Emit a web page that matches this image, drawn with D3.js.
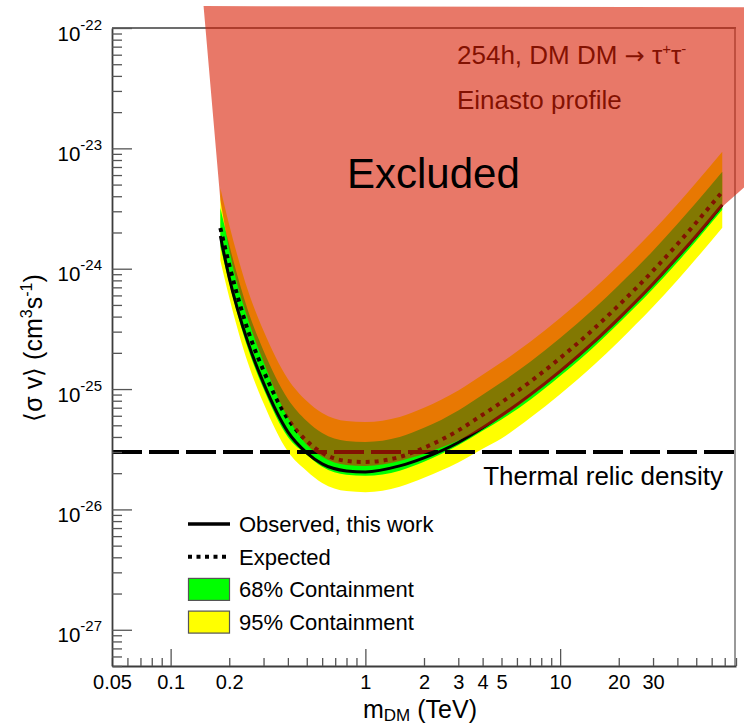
<!DOCTYPE html>
<html>
<head>
<meta charset="utf-8">
<script src="https://cdn.jsdelivr.net/npm/d3@7"></script>
<style>
  body { margin: 0; background: #fff; }
  svg { display: block; }
  text { font-family: "Liberation Sans", Arial, Helvetica, sans-serif; }
</style>
</head>
<body>
<svg id="chart" width="744" height="726"></svg>
<script>
// Dark-matter mass grid (TeV)
const massTeV = [0.18, 0.2, 0.25, 0.3, 0.4, 0.5, 0.6, 0.8, 1, 1.5, 2, 3, 4, 5, 7, 10, 15, 20, 30, 40, 50, 68];

// Upper limits on <sigma v> (cm^3 s^-1)
const observed = [1.87e-24, 8.4e-25, 2.42e-25, 1.12e-25, 4.41e-26, 2.95e-26, 2.39e-26, 2.09e-26, 2.05e-26, 2.30e-26, 2.68e-26,
                  3.60e-26, 4.77e-26, 6.05e-26, 8.94e-26, 1.41e-25, 2.49e-25, 3.87e-25, 7.50e-25, 1.25e-24, 1.88e-24, 3.40e-24];
const expected = [2.18e-24, 1.075e-24, 3.04e-25, 1.42e-25, 5.65e-26, 3.71e-26, 2.95e-26, 2.53e-26, 2.48e-26, 2.73e-26, 3.25e-26,
                  4.53e-26, 6.12e-26, 7.76e-26, 1.146e-25, 1.81e-25, 3.20e-25, 4.97e-25, 9.62e-25, 1.60e-24, 2.42e-24, 4.36e-24];

// Containment bands around the expected limit
const band68Low  = [1.54e-24, 7.61e-25, 2.15e-25, 1.005e-25, 4.00e-26, 2.85e-26, 2.26e-26, 1.94e-26, 1.90e-26, 2.10e-26, 2.49e-26,
                    3.41e-26, 4.50e-26, 5.58e-26, 8.11e-26, 1.281e-25, 2.26e-25, 3.52e-25, 6.81e-25, 1.132e-24, 1.71e-24, 3.09e-24];
const band68High = [3.20e-24, 1.58e-24, 4.46e-25, 2.08e-25, 8.28e-26, 5.44e-26, 4.32e-26, 3.71e-26, 3.64e-26, 4.00e-26, 4.76e-26,
                    6.64e-26, 8.97e-26, 1.138e-25, 1.68e-25, 2.65e-25, 4.69e-25, 7.29e-25, 1.41e-24, 2.35e-24, 3.55e-24, 6.39e-24];
const band95Low  = [1.17e-24, 5.77e-25, 1.63e-25, 7.63e-26, 3.03e-26, 2.09e-26, 1.66e-26, 1.42e-26, 1.39e-26, 1.54e-26, 1.83e-26,
                    2.45e-26, 3.19e-26, 3.89e-26, 5.74e-26, 9.07e-26, 1.60e-25, 2.49e-25, 4.82e-25, 8.02e-25, 1.213e-24, 2.19e-24];
const band95High = [4.68e-24, 2.31e-24, 6.53e-25, 3.05e-25, 1.214e-25, 7.97e-26, 6.34e-26, 5.43e-26, 5.33e-26, 5.86e-26, 6.98e-26,
                    9.73e-26, 1.315e-25, 1.667e-25, 2.46e-25, 3.89e-25, 6.87e-25, 1.068e-24, 2.07e-24, 3.44e-24, 5.20e-24, 9.37e-24];

// Thermal relic cross-section
const thermalRelic = 3e-26;

// Lower boundary of the excluded region (same mass grid), and its outer corners
const excludedEdge = [3.72e-24, 1.43e-24, 3.76e-25, 1.68e-25, 5.77e-26, 3.44e-26, 2.74e-26, 2.34e-26, 2.30e-26, 2.53e-26, 2.90e-26,
                      3.74e-26, 4.68e-26, 5.82e-26, 8.60e-26, 1.357e-25, 2.40e-25, 3.72e-25, 7.22e-25, 1.203e-24, 1.81e-24, 3.27e-24];
const excludedCornerMass  = [90, 90, 0.1476];
const excludedCornerValue = [4.88e-24, 1.49e-22, 1.52e-22];

// Axis labels
const xTickValues = [0.05, 0.1, 0.2, 1, 2, 3, 4, 5, 10, 20, 30];
const yTickExponents = [-22, -23, -24, -25, -26, -27];
const legendLabels = ["Observed, this work", "Expected", "68% Containment", "95% Containment"];

const svg = d3.select("#chart");
const x = d3.scaleLog().domain([0.05, 80]).range([112, 736]);
const y = d3.scaleLog().domain([5e-28, 1e-22]).range([666, 28]);
const axisColor = "#3c3c3c";

// frame (top and right)
svg.append("line").attr("x1", 112).attr("x2", 736).attr("y1", 28).attr("y2", 28)
  .attr("stroke", axisColor).attr("stroke-width", 1.5);
svg.append("line").attr("x1", 735).attr("x2", 735).attr("y1", 28).attr("y2", 666)
  .attr("stroke", "#777").attr("stroke-width", 1.5);

// bands
const bandArea = (lo, hi) => d3.area()
  .x((d, i) => x(massTeV[i]))
  .y0((d, i) => y(lo[i]))
  .y1((d, i) => y(hi[i]))
  .curve(d3.curveMonotoneX)(massTeV);
svg.append("path").attr("d", bandArea(band95Low, band95High)).attr("fill", "#ffff00");
svg.append("path").attr("d", bandArea(band68Low, band68High)).attr("fill", "#00ff00");

// limit curves
const curve = d3.line().x((d, i) => x(massTeV[i])).y(d => y(d)).curve(d3.curveMonotoneX);
svg.append("path").attr("d", curve(expected)).attr("fill", "none")
  .attr("stroke", "#000").attr("stroke-width", 4).attr("stroke-dasharray", "4 5");
svg.append("path").attr("d", curve(observed)).attr("fill", "none")
  .attr("stroke", "#000").attr("stroke-width", 3);

// thermal relic line
svg.append("line").attr("x1", 112).attr("x2", 735)
  .attr("y1", y(thermalRelic)).attr("y2", y(thermalRelic))
  .attr("stroke", "#000").attr("stroke-width", 4).attr("stroke-dasharray", "30 7");

// x axis
const isDecade = v => Math.abs(Math.log10(v) - Math.round(Math.log10(v))) < 1e-6;
const gx = svg.append("g").attr("transform", "translate(0,666)");
gx.call(d3.axisBottom(x).tickValues(x.ticks().filter(v => !isDecade(v))).tickSize(-8).tickSizeOuter(0).tickFormat(""));
const gxMaj = svg.append("g").attr("transform", "translate(0,666)")
  .call(d3.axisBottom(x).tickValues(x.ticks().filter(isDecade)).tickSize(-17).tickSizeOuter(0).tickFormat(""));
gxMaj.select(".domain").remove();
const gxLab = svg.append("g").attr("transform", "translate(0,666)")
  .call(d3.axisBottom(x).tickValues(xTickValues).tickSize(0).tickPadding(9).tickFormat(d => String(d)));
gxLab.select(".domain").remove();
gxLab.selectAll("text").attr("font-size", 20).attr("fill", "#000")
  .attr("font-family", "Liberation Sans, Arial, sans-serif");

// y axis
const gy = svg.append("g").attr("transform", "translate(112,0)");
gy.call(d3.axisLeft(y).tickValues(y.ticks().filter(v => !isDecade(v))).tickSize(-10).tickSizeOuter(0).tickFormat(""));
const gyMaj = svg.append("g").attr("transform", "translate(112,0)")
  .call(d3.axisLeft(y).tickValues(yTickExponents.map(e => Math.pow(10, e))).tickSize(-20).tickSizeOuter(0).tickFormat(""));
gyMaj.select(".domain").remove();
gyMaj.selectAll(".tick text").remove();
gyMaj.selectAll(".tick").each(function (d) {
  const t = d3.select(this).append("text")
    .attr("x", -10).attr("y", 12).attr("text-anchor", "end")
    .attr("fill", "#000").attr("font-size", 20.5)
    .attr("font-family", "Liberation Sans, Arial, sans-serif");
  t.append("tspan").text("10");
  t.append("tspan").attr("dy", -11).attr("font-size", 15).text(String(Math.round(Math.log10(d))));
});

[gx, gy].forEach(g => {
  g.select(".domain").attr("stroke", axisColor).attr("stroke-width", 1.8);
  g.selectAll(".tick line").attr("stroke", "#555").attr("stroke-width", 1.3);
});
[gxMaj, gyMaj].forEach(g => g.selectAll(".tick line").attr("stroke", "#555").attr("stroke-width", 1.3));

// process labels (under the excluded shading)
svg.append("text").attr("x", 457).attr("y", 64).attr("font-size", 26).attr("fill", "#000")
  .call(t => {
    t.append("tspan").text("254h, DM DM ");
    t.append("tspan").attr("font-family", "DejaVu Sans, sans-serif").attr("font-size", 24).text("\u2192");
    t.append("tspan").text(" \u03c4");
    t.append("tspan").attr("dy", -10).attr("font-size", 15).text("+");
    t.append("tspan").attr("dy", 10).text("\u03c4");
    t.append("tspan").attr("dy", -10).attr("font-size", 15).text("-");
  });
svg.append("text").attr("x", 457).attr("y", 109).attr("font-size", 26).attr("fill", "#000")
  .text("Einasto profile");

// excluded region
const cornerPts = excludedCornerMass.map((m, i) => [x(m), y(excludedCornerValue[i])]);
const edgePath = curve(excludedEdge);
const excludedPath = "M" + cornerPts[2].join(",") + edgePath.replace(/^M/, "L") +
  "L" + cornerPts[0].join(",") + "L" + cornerPts[1].join(",") + "Z";
svg.append("path").attr("d", excludedPath)
  .attr("fill", "rgb(217,30,3)").attr("fill-opacity", 0.6);

svg.append("text").attr("x", 347).attr("y", 188)
  .attr("font-family", "Lato, 'Open Sans', sans-serif").attr("font-size", 42).attr("fill", "#000")
  .text("Excluded");

// thermal relic label
svg.append("text").attr("x", 723).attr("y", 485).attr("text-anchor", "end")
  .attr("font-size", 26).attr("fill", "#000").text("Thermal relic density");

// legend
const legend = svg.append("g");
legendLabels.forEach((label, i) => {
  const cy = 524 + i * 32.7;
  if (i === 0) {
    legend.append("line").attr("x1", 188).attr("x2", 230).attr("y1", cy).attr("y2", cy)
      .attr("stroke", "#000").attr("stroke-width", 3.5);
  } else if (i === 1) {
    legend.append("line").attr("x1", 188).attr("x2", 230).attr("y1", cy).attr("y2", cy)
      .attr("stroke", "#000").attr("stroke-width", 4).attr("stroke-dasharray", "4 4.5");
  } else {
    legend.append("rect").attr("x", 188.5).attr("y", cy - 11).attr("width", 41).attr("height", 22)
      .attr("fill", i === 2 ? "#00ff00" : "#ffff00").attr("stroke", "#555").attr("stroke-width", 1.2);
  }
  legend.append("text").attr("x", 239).attr("y", cy + 8).attr("font-size", 22).attr("fill", "#000").text(label);
});

// axis titles
svg.append("text").attr("x", 363).attr("y", 718).attr("font-size", 25).attr("fill", "#000")
  .call(t => {
    t.append("tspan").text("m");
    t.append("tspan").attr("dy", 3).attr("font-size", 17).text("DM");
    t.append("tspan").attr("dy", -3).text(" (TeV)");
  });
svg.append("text").attr("transform", "translate(42,348) rotate(-90)").attr("text-anchor", "middle")
  .attr("font-size", 25).attr("fill", "#000")
  .call(t => {
    t.append("tspan").text("\u27e8\u03c3 v\u27e9  (cm");
    t.append("tspan").attr("dy", -10).attr("font-size", 16).text("3");
    t.append("tspan").attr("dy", 10).text("s");
    t.append("tspan").attr("dy", -10).attr("font-size", 16).text("-1");
    t.append("tspan").attr("dy", 10).text(")");
  });
</script>
</body>
</html>
